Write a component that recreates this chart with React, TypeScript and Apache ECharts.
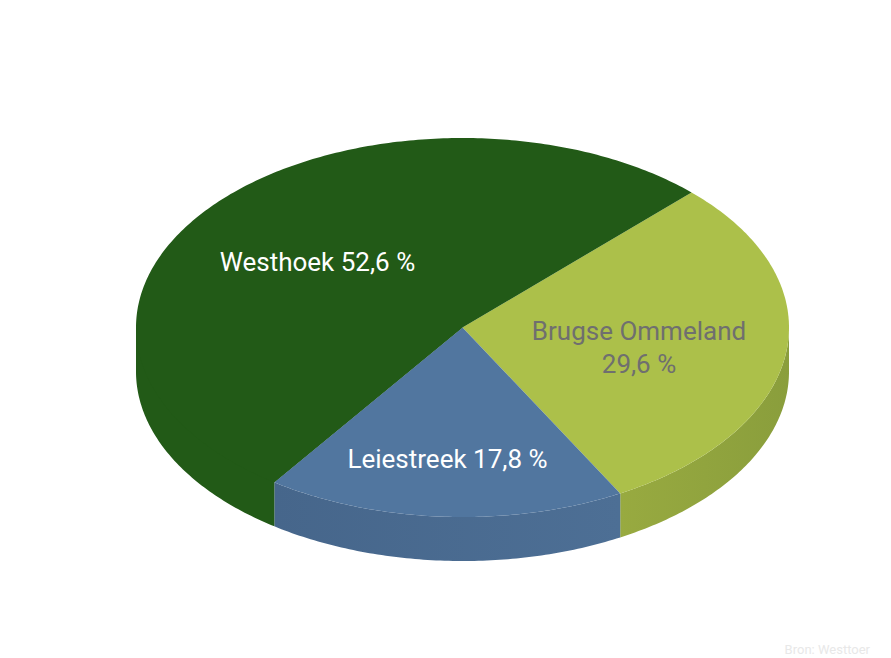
import React, { useEffect, useRef } from "react";
import * as echarts from "echarts";

const regions = ["Brugse Ommeland", "Leiestreek", "Westhoek"];
const shares = [29.6, 17.8, 52.6];
const labelLines = [["Brugse Ommeland", "29,6 %"], ["Leiestreek 17,8 %"], ["Westhoek 52,6 %"]];
const topColors = ["#acc04a", "#51769f", "#225a17"];
const sideStops = [
  ["#8a9e3c", "#98aa40"],
  ["#46668b", "#4d6f95"],
  ["#225a17", "#225a17"],
];
const labelColors = ["#6f6f6f", "#ffffff", "#ffffff"];
const source = "Bron: Westtoer";

const CX = 462.5;
const CY = 327.5;
const RX = 326.5;
const RY = 189.5;
const DEPTH = 44;
const START_DEG = -45.45;
const FONT = "Roboto";
const labelAnchors = [
  [639, 347],
  [447.5, 459],
  [317.5, 262],
];

const total = shares.reduce((a, b) => a + b, 0);
const rangeOf = (index: number) => {
  const before = shares.slice(0, index).reduce((a, b) => a + b, 0);
  return [START_DEG + (before / total) * 360, START_DEG + ((before + shares[index]) / total) * 360];
};
const arc = (from: number, to: number, dy = 0) => {
  const steps = Math.max(2, Math.ceil(Math.abs(to - from) / 0.75));
  const pts: number[][] = [];
  for (let i = 0; i <= steps; i++) {
    const a = ((from + ((to - from) * i) / steps) * Math.PI) / 180;
    pts.push([CX + RX * Math.cos(a), CY + RY * Math.sin(a) + dy]);
  }
  return pts;
};

const renderSide = (_: any, api: any) => {
  const i = api.value(0);
  const [a, b] = rangeOf(i);
  const from = Math.max(a, 0);
  const to = Math.min(b, 180);
  if (to <= from) return { type: "group", children: [] };
  // The dark slice has one colour for top and side, so its side runs under the top without a seam.
  const seamless = sideStops[i][0] === topColors[i];
  const points = seamless
    ? [[CX, CY], arc(from, to)[0], ...arc(from, to, DEPTH), arc(to, from)[0]]
    : [...arc(from, to), ...arc(to, from, DEPTH)];
  return {
    type: "polygon",
    shape: { points },
    style: {
      fill: new echarts.graphic.LinearGradient(0, 0, 1, 0, [
        { offset: 0, color: sideStops[i][i === 1 ? 0 : 1] },
        { offset: 1, color: sideStops[i][i === 1 ? 1 : 0] },
      ]),
    },
  };
};

const renderTop = (_: any, api: any) => {
  const i = api.value(0);
  const [a, b] = rangeOf(i);
  return {
    type: "group",
    children: [
      {
        type: "polygon",
        shape: { points: [[CX, CY], ...arc(a, b)] },
        style: { fill: topColors[i] },
      },
      {
        type: "text",
        z2: 10,
        style: {
          x: labelAnchors[i][0],
          y: labelAnchors[i][1],
          text: labelLines[i].join("\n"),
          fill: labelColors[i],
          font: `400 26px ${FONT}`,
          lineHeight: 33,
          align: "center",
          verticalAlign: "middle",
          textAlign: "center",
          textVerticalAlign: "middle",
        },
      },
    ],
  };
};

export default function App() {
  const ref = useRef<HTMLDivElement>(null);
  useEffect(() => {
    const chart = echarts.init(ref.current!, null, { renderer: "svg" });
    const data = regions.map((name, i) => ({ name, value: [i, shares[i]] }));
    chart.setOption({
      animation: false,
      backgroundColor: "#ffffff",
      series: [
        { type: "custom", coordinateSystem: "none", renderItem: renderSide, data, silent: true, z: 1 },
        { type: "custom", coordinateSystem: "none", renderItem: renderTop, data, silent: true, z: 2 },
      ],
      graphic: [
        {
          type: "text",
          right: 21,
          top: 643,
          style: { text: source, fill: "#e8e8e8", font: `400 13px ${FONT}` },
        },
      ],
    });
    return () => chart.dispose();
  }, []);
  return <div ref={ref} style={{ position: "fixed", left: 0, top: 0, width: 891, height: 658 }} />;
}
